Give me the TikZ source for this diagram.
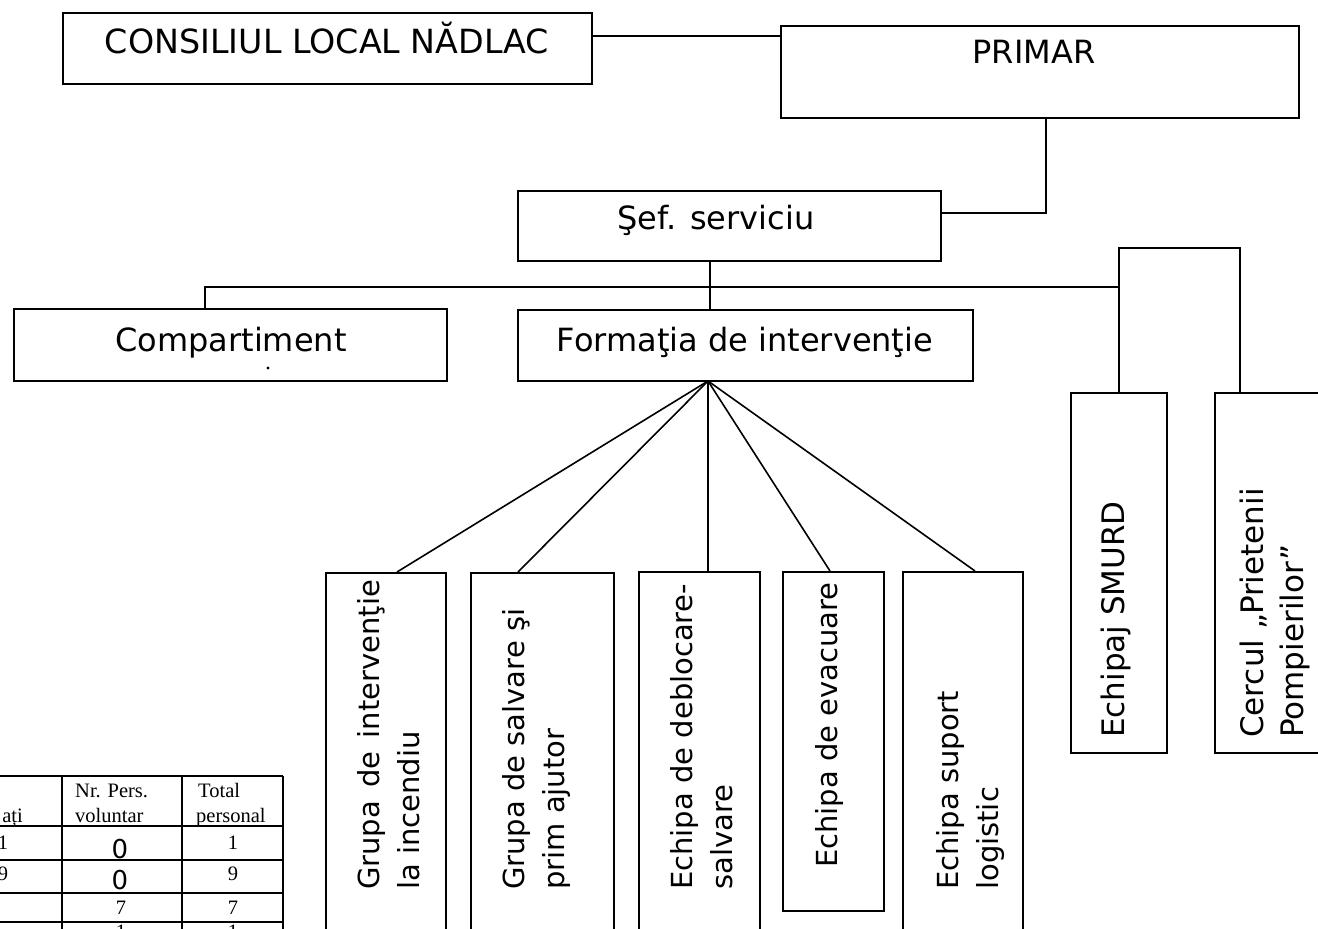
\documentclass[tikz,border=0pt]{standalone}
\usepackage{fontspec}
\setmainfont{DejaVu Sans}
\newfontfamily\tabfont{Liberation Serif}
\begin{document}
\begin{tikzpicture}[x=1pt,y=-1pt,
  box/.style={draw, line width=1.8pt, inner sep=0pt, anchor=north west},
  htext/.style={font=\fontsize{32}{38}\selectfont, inner sep=0pt, anchor=base},
  vtext/.style={rotate=90, anchor=west, align=left, inner sep=0pt, font=\fontsize{29}{40}\selectfont},
  vtextb/.style={rotate=90, anchor=west, align=left, inner sep=0pt, font=\fontsize{31}{40}\selectfont},
  link/.style={line width=1.6pt},
  tline/.style={line width=1.5pt},
  ttext/.style={font=\tabfont\fontsize{20.5}{24}\selectfont, inner sep=0pt},
  tzero/.style={font=\fontsize{26}{28}\selectfont, inner sep=0pt, anchor=base}]
\path[use as bounding box] (0,0) rectangle (1318,929);
\clip (0,0) rectangle (1318,929);
\fill[white] (0,0) rectangle (1318,929);

% top level boxes
\node[box, minimum width=529pt, minimum height=71pt] (cons) at (62,12) {};
\node[htext, font=\fontsize{33.3}{38}\selectfont] (consT) at (327,53.5) {CONSILIUL LOCAL NĂDLAC};
\node[box, minimum width=518pt, minimum height=92pt] (primar) at (780,25) {};
\node[htext] (primarT) at (1034,63.5) {PRIMAR};
\node[box, minimum width=423pt, minimum height=70pt] (sef) at (517,190) {};
\node[htext] (sefT) at (716,229.5) {Şef. serviciu};
\node[box, minimum width=433pt, minimum height=72pt] (comp) at (13,308) {};
\node[htext] (compT) at (231,351.5) {Compartiment};
\fill (268,368) circle (1.6);
\node[box, minimum width=455pt, minimum height=71pt] (form) at (517,309) {};
\node[htext] (formT) at (745,351.5) {Formaţia de intervenţie};

% lower boxes
\node[box, minimum width=120pt, minimum height=370pt] (g1) at (325,572) {};
\node[box, minimum width=143pt, minimum height=370pt] (g2) at (470,572) {};
\node[box, minimum width=121pt, minimum height=370pt] (g3) at (638,571) {};
\node[box, minimum width=101pt, minimum height=339pt] (g4) at (782,571) {};
\node[box, minimum width=120pt, minimum height=370pt] (g5) at (902,571) {};
\node[box, minimum width=96pt, minimum height=360pt] (smurd) at (1070,392) {};
\node[box, minimum width=130pt, minimum height=360pt] (cerc) at (1214,392) {};

\node[vtext] (g1T) at (389,890) {Grupa\hspace{4pt} de\hspace{4pt} intervenţie\\la incendiu};
\node[vtext] (g2T) at (536,890) {Grupa de salvare şi\\prim ajutor};
\node[vtext] (g3T) at (702,890) {Echipa de deblocare-\\salvare};
\node[vtext] (g4T) at (829,868) {Echipa de evacuare};
\node[vtext] (g5T) at (970,890) {Echipa suport\\logistic};
\node[vtextb] (smurdT) at (1116,738) {Echipaj SMURD};
\node[vtextb] (cercT) at (1275,738) {Cercul „Prietenii\\Pompierilor”};

% connectors
\draw[link] (cons.east |- 0,36) -- (primar.west |- 0,36);
\coordinate (pj) at (1046,213);
\draw[link] (primar.south -| pj) -- (pj) -- (sef.east |- pj);
\coordinate (bus) at (710,287);
\draw[link] (sef.south -| bus) -- (form.north -| bus);
\draw[link] (comp.north -| 205,0) -- (205,287) -- (1118,287);
\coordinate (rj) at (1240,248);
\draw[link] (smurd.north) -- (smurd.north |- rj) -- (rj) -- (cerc.north -| rj);
\coordinate (fan) at (708,381);
\draw[link] (fan) -- (g1.north -| 397,0);
\draw[link] (fan) -- (g2.north -| 518,0);
\draw[link] (fan) -- (g3.north -| 708,0);
\draw[link] (fan) -- (g4.north -| 830,0);
\draw[link] (fan) -- (g5.north -| 975,0);

% partial table
\foreach \yy in {776,826,860,893,922} \draw[tline] (-5,\yy) -- (283,\yy);
\foreach \xx in {62,182,283} \draw[tline] (\xx,776) -- (\xx,940);
\node[ttext, anchor=base west] (h1) at (75,797) {Nr. Pers.};
\node[ttext, anchor=base west] (h2) at (75,822) {voluntar};
\node[ttext, anchor=base west] (h3) at (198,797) {Total};
\node[ttext, anchor=base west] (h4) at (196,822) {personal};
\node[ttext, anchor=base east] (h0) at (23,822) {ați};
\node[ttext, anchor=base] (r1a) at (3,849) {1};
\node[ttext, anchor=base] (r2a) at (3,880) {9};
\node[tzero] (r1b) at (120,858) {0};
\node[tzero] (r2b) at (120,889) {0};
\node[ttext, anchor=base] (r3b) at (121,914) {7};
\node[ttext, anchor=base] (r4b) at (121,938) {1};
\node[ttext, anchor=base] (r1c) at (233,849) {1};
\node[ttext, anchor=base] (r2c) at (233,880) {9};
\node[ttext, anchor=base] (r3c) at (233,914) {7};
\node[ttext, anchor=base] (r4c) at (233,938) {1};
\end{tikzpicture}
\end{document}
